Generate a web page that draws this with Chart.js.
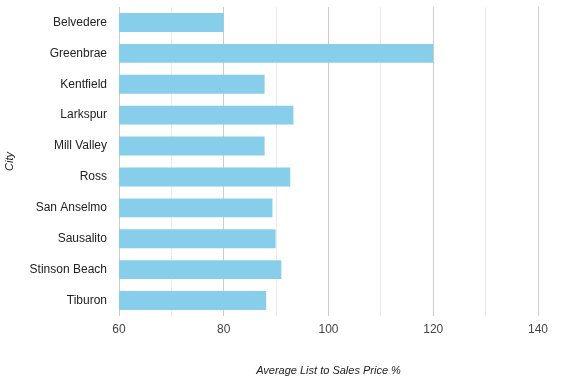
<!DOCTYPE html>
<html>
<head>
<meta charset="utf-8">
<script src="https://cdn.jsdelivr.net/npm/chart.js@4/dist/chart.umd.min.js"></script>
<style>
  html, body { margin: 0; padding: 0; background: #fff; }
  #wrap { width: 567px; height: 388px; position: relative; }
</style>
</head>
<body>
<div id="wrap"><canvas id="c" width="567" height="388"></canvas></div>
<script>
const cities = ["Belvedere", "Greenbrae", "Kentfield", "Larkspur", "Mill Valley", "Ross", "San Anselmo", "Sausalito", "Stinson Beach", "Tiburon"];
const listToSalesPct = [80.0, 120.0, 87.8, 93.3, 87.8, 92.7, 89.3, 89.9, 91.0, 88.1];
const xTickLabels = [60, 80, 100, 120, 140];
const xTitle = "Average List to Sales Price %";
const yTitle = "City";

const FONT = "Arial, 'Liberation Sans', sans-serif";

new Chart(document.getElementById('c'), {
  type: 'bar',
  data: {
    labels: cities,
    datasets: [{
      data: listToSalesPct,
      backgroundColor: '#87CEEB',
      borderWidth: 0,
      barPercentage: 0.613,
      categoryPercentage: 1.0
    }]
  },
  options: {
    indexAxis: 'y',
    responsive: false,
    animation: false,
    devicePixelRatio: 1,
    layout: { padding: { top: 7, right: 29, bottom: 0, left: 0 } },
    plugins: { legend: { display: false }, tooltip: { enabled: false } },
    scales: {
      x: {
        min: 60,
        max: 140,
        afterFit: s => { s.height = 72; s.paddingLeft = 0; s.paddingRight = 0; },
        ticks: {
          stepSize: 10,
          padding: 6,
          color: '#444',
          font: { family: FONT, size: 12 },
          maxRotation: 0,
          autoSkip: false,
          callback: v => xTickLabels.includes(v) ? String(v) : ''
        },
        grid: {
          drawTicks: false,
          color: ctx => (ctx.tick && xTickLabels.includes(ctx.tick.value)) ? '#cccccc' : '#ebebeb',
          lineWidth: 1
        },
        border: { display: false },
        title: {
          display: true,
          text: xTitle,
          color: '#222',
          font: { family: FONT, size: 11, style: 'italic' },
          padding: { top: 0, bottom: 10 }
        }
      },
      y: {
        afterFit: s => { s.width = 119; s.paddingTop = 0; s.paddingBottom = 0; },
        ticks: {
          padding: 12,
          color: '#222',
          font: { family: FONT, size: 12 }
        },
        grid: { display: false, drawTicks: false },
        border: { display: false },
        title: {
          display: true,
          text: yTitle,
          color: '#222',
          font: { family: FONT, size: 11, style: 'italic' },
          padding: { top: 3, bottom: 0 }
        }
      }
    }
  }
});
</script>
</body>
</html>
